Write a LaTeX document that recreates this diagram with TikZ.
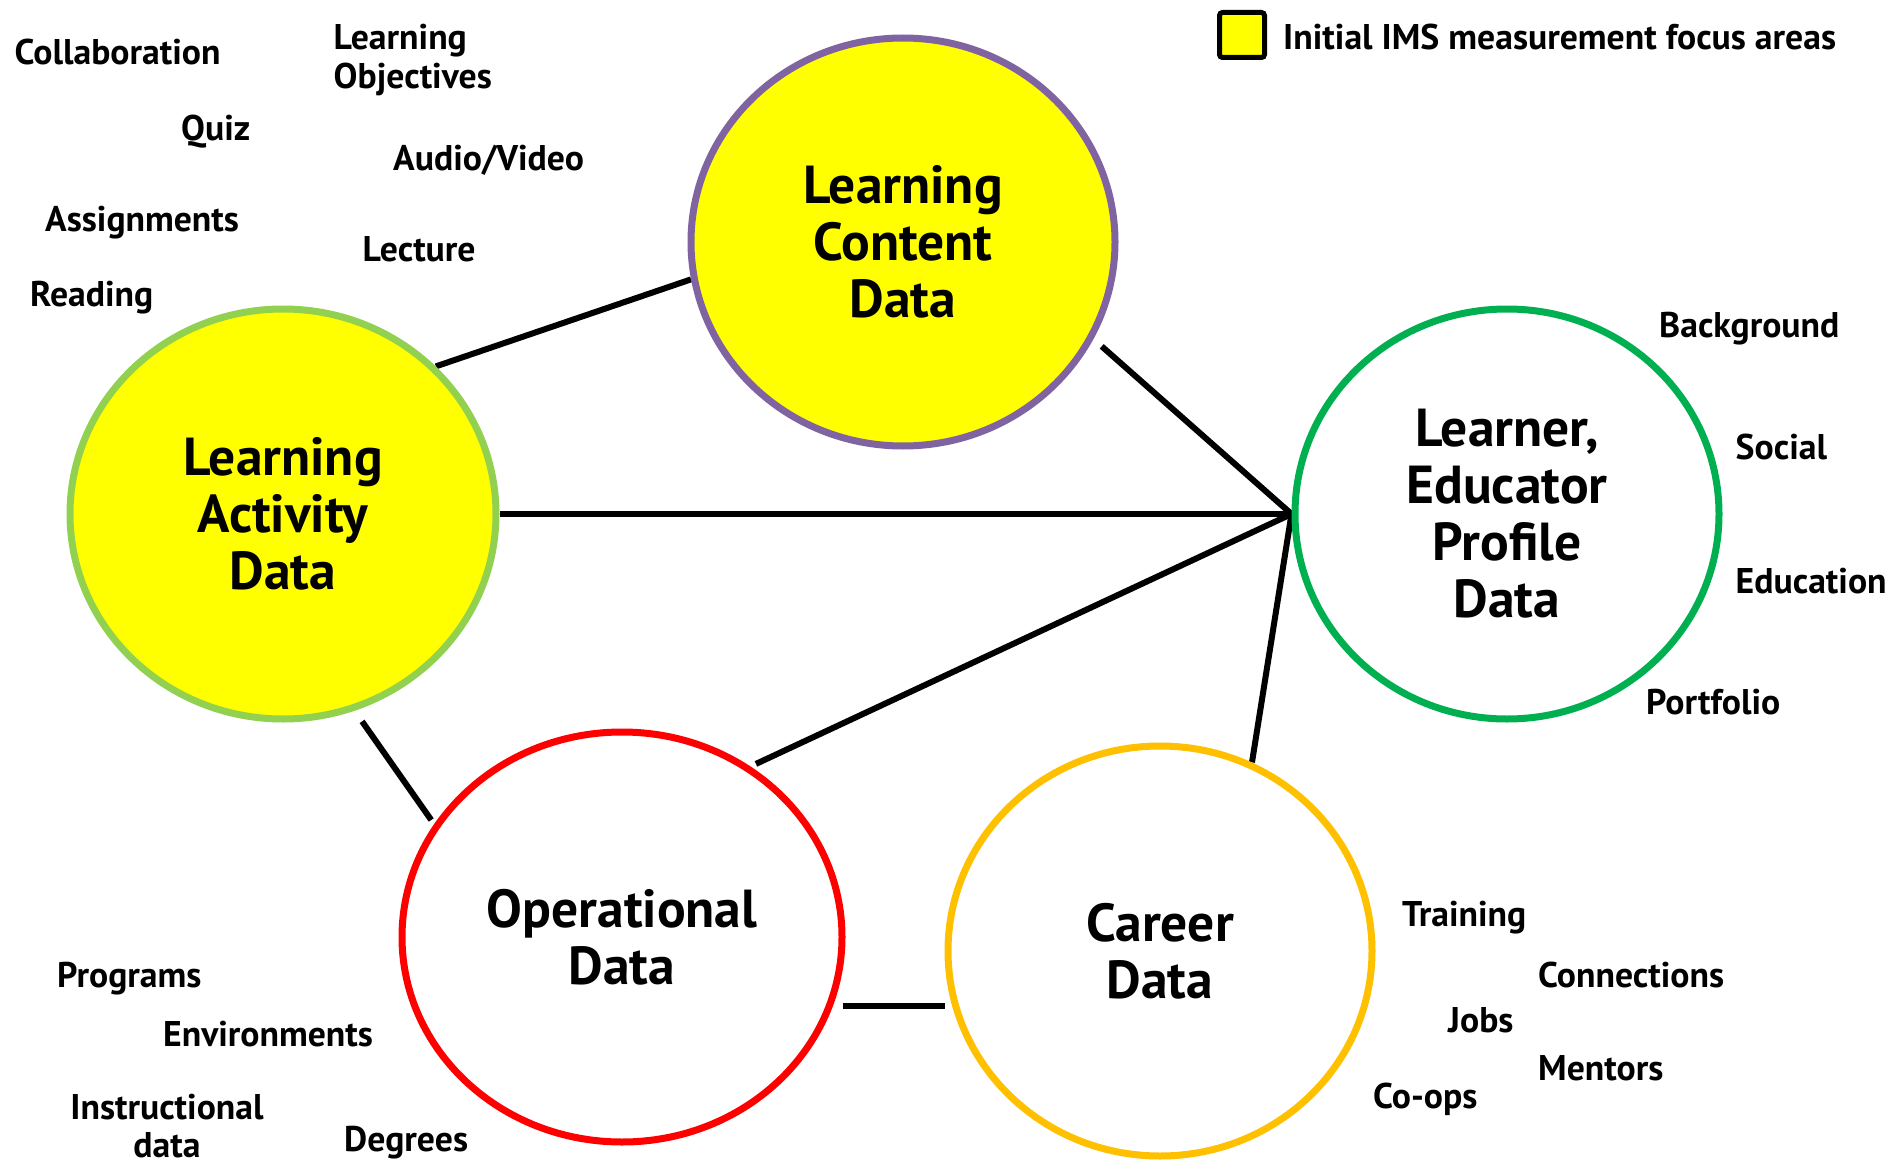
\documentclass[tikz,border=0pt]{standalone}
\usepackage{fontspec}
\setmainfont{PT Sans}
\usetikzlibrary{shapes.geometric,backgrounds}
\definecolor{lgreen}{HTML}{92D050}
\definecolor{purp}{HTML}{8064A2}
\definecolor{dgreen}{HTML}{00B050}
\definecolor{orng}{HTML}{FFC000}
\definecolor{red}{HTML}{FF0000}
\definecolor{yel}{HTML}{FFFF00}
\begin{document}
\begin{tikzpicture}[x=1pt,y=-1pt,
  bubble/.style={ellipse, draw, line width=7pt, inner sep=0pt, align=center,
    font=\bfseries\fontsize{53.5}{57}\selectfont},
  conn/.style={line width=6pt, black},
  lbl/.style={anchor=west, inner sep=0pt, text height=0.72em, text depth=0pt,
    font=\bfseries\fontsize{35.7}{38.5}\selectfont},
  lbltwo/.style={inner sep=0pt, font=\bfseries\fontsize{35.7}{38.5}\selectfont}
]
\useasboundingbox (0,0) rectangle (1895,1161);

% bubbles
\node[bubble, fill=yel, draw=lgreen, minimum width=426pt, minimum height=410pt] (lad) at (283,514) {Learning\\Activity\\Data};
\node[bubble, fill=yel, draw=purp, minimum width=424pt, minimum height=408pt] (lcd) at (903,242) {Learning\\Content\\Data};
\node[bubble, draw=dgreen, minimum width=424pt, minimum height=410pt] (lep) at (1507,514) {Learner,\\Educator\\Profile\\Data};
\node[bubble, draw=red, minimum width=440pt, minimum height=410pt] (opd) at (622,937) {Operational\\Data};
\node[bubble, draw=orng, minimum width=424pt, minimum height=410pt] (car) at (1160,951) {Career\\Data};

% connectors and background
\begin{scope}[on background layer]
\fill[white] (0,0) rectangle (1895,1161);
\draw[conn] (lad.44) -- (lcd.190.5);
\draw[conn, shorten <=11pt] (lcd.-27) -- (lep.west);
\draw[conn] (lad.east) -- (lep.west);
\draw[conn, shorten <=6pt] (opd.53) -- (lep.west);
\draw[conn] (car.64) -- (lep.west);
\draw[conn, shorten <=13pt, shorten >=5pt] (lad.-70) -- (opd.149);
\draw[conn, shorten <=10pt] (opd.-18.8) -- (opd.-18.8 -| car.west);
\end{scope}

% legend
\node[draw, line width=5pt, fill=yel, rounded corners=3pt, minimum width=45pt, minimum height=45pt, inner sep=0pt] (legbox) at (1242,35) {};
\node[lbl] (legtxt) at (1283,45.5) {Initial IMS measurement focus areas};

% activity / content labels
\node[lbl] (collab) at (14.5,60.5) {Collaboration};
\node[lbl] (quiz) at (181,136.5) {Quiz};
\node[lbl] (assign) at (45,227.5) {Assignments};
\node[lbl] (reading) at (30,302.5) {Reading};
\node[lbl] (lecture) at (362.5,257.5) {Lecture};
\node[lbl] (audio) at (393,166.5) {Audio/Video};
\node[lbltwo, anchor=west, align=left] (objectives) at (333.5,60) {Learning\\Objectives};

% profile labels
\node[lbl] (backg) at (1659,333.5) {Background};
\node[lbl] (social) at (1735.5,455.5) {Social};
\node[lbl] (educ) at (1735.5,589.5) {Education};
\node[lbl] (portf) at (1646,710.5) {Portfolio};

% career labels
\node[lbl] (train) at (1402,922.5) {Training};
\node[lbl] (connect) at (1538,983.5) {Connections};
\node[lbl] (jobs) at (1448,1028.5) {Jobs};
\node[lbl] (mentors) at (1538,1076.5) {Mentors};
\node[lbl] (coops) at (1373,1104.5) {Co-ops};

% operational labels
\node[lbl] (programs) at (57,983.5) {Programs};
\node[lbl] (environ) at (163,1042.5) {Environments};
\node[lbltwo, align=center] (instr) at (167,1126) {Instructional\\data};
\node[lbl] (degrees) at (344,1148) {Degrees};
\end{tikzpicture}
\end{document}
